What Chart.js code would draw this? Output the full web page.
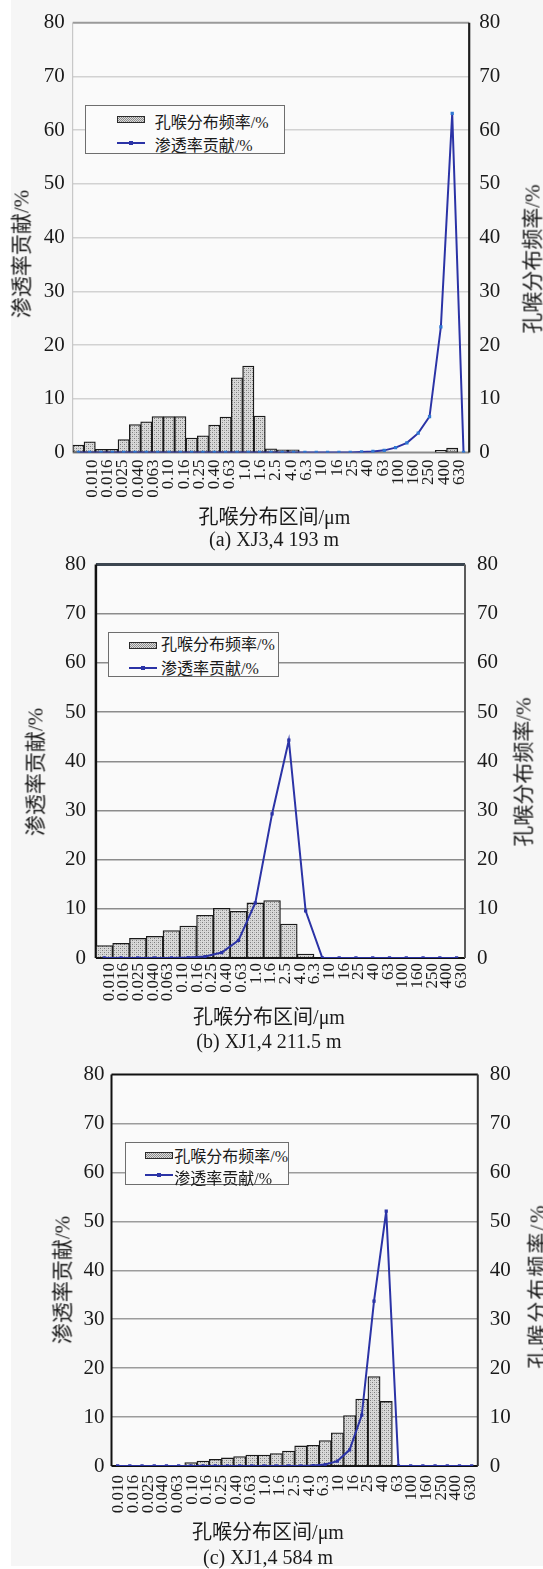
<!DOCTYPE html>
<html><head><meta charset="utf-8">
<script src="https://cdn.jsdelivr.net/npm/chart.js@4.4.1/dist/chart.umd.min.js"></script>
<style>
html,body{margin:0;padding:0;background:#fff;width:543px;height:1569px;overflow:hidden;position:relative}
#bg{position:absolute;left:11px;top:0;width:532px;height:1566px;background:#f6f6f6}
canvas{position:absolute;left:0}
.t{position:absolute;font-family:"Liberation Serif","Noto Sans CJK SC",serif;color:#1a1a1a;white-space:nowrap;line-height:1}
.c{transform:translate(-50%,-50%)}
.r{transform:translate(-50%,-50%) rotate(-90deg)}
.lg{position:absolute;border:1.5px solid #6e6e6e;background:#fbfbfb;box-sizing:border-box}
.sw{position:absolute;height:7px;border:1.5px solid #2a2a2a;box-sizing:border-box;background:repeating-conic-gradient(#8a8a8a 0 25%,#dcdcdc 0 50%) 0 0/2px 2px}
.ln{position:absolute;height:2px;background:#2b33a6}
.mk{position:absolute;width:4px;height:4px;background:#2b33a6}
.lt{position:absolute;font-family:"Liberation Serif","Noto Sans CJK SC",serif;font-size:16px;line-height:1;color:#1a1a1a;white-space:nowrap;transform:translateY(-50%)}
</style></head>
<body>
<div id="bg"></div>
<canvas id="ca" width="543" height="510" style="top:0px"></canvas>
<canvas id="cb" width="543" height="470" style="top:540px"></canvas>
<canvas id="cc" width="543" height="480" style="top:1050px"></canvas>
<div id="txt"></div>
<script>
// ---- tick labels of the pore-throat interval axis (µm) ----
const tickLabels = ['0.010','0.016','0.025','0.040','0.063','0.10','0.16','0.25','0.40','0.63','1.0','1.6','2.5','4.0','6.3','10','16','25','40','63','100','160','250','400','630'];

// ---- (a) XJ3, 4 193 m : 35 bins ----
const binsA = ['1','2','3','4','5','6','7','8','9','10','11','12','13','14','15','16','17','18','19','20','21','22','23','24','25','26','27','28','29','30','31','32','33','34','35'];
const poreA = [1.4,2.0,0.6,0.6,2.4,5.2,5.7,6.7,6.7,6.7,2.7,3.1,5.1,6.6,13.9,16.1,6.8,0.7,0.5,0.5,0,0,0,0,0,0,0,0,0,0,0,0,0.4,0.8,0];
const permA = [0,0,0,0,0,0,0,0,0,0,0,0,0,0,0,0,0,0,0,0,0,0,0,0,0,0.1,0.2,0.4,0.9,1.8,3.6,6.7,23.4,63.1,0];

// ---- (b) XJ1, 4 211.5 m : 22 bins ----
const binsB = ['1','2','3','4','5','6','7','8','9','10','11','12','13','14','15','16','17','18','19','20','21','22'];
const poreB = [2.55,3.0,4.0,4.4,5.6,6.5,8.7,10.1,9.5,11.2,11.7,6.9,0.8,0,0,0,0,0,0,0,0,0];
const permB = [0,0,0,0,0,0.1,0.3,1.1,3.6,11.2,29.3,44.3,9.6,0,0,0,0,0,0,0,0,0];

// ---- (c) XJ1, 4 584 m : 30 bins ----
const binsC = ['1','2','3','4','5','6','7','8','9','10','11','12','13','14','15','16','17','18','19','20','21','22','23','24','25','26','27','28','29','30'];
const poreC = [0,0,0,0,0,0,0.7,1.0,1.35,1.65,1.95,2.25,2.25,2.55,3.05,4.1,4.25,5.2,6.8,10.3,13.7,18.3,13.2,0,0,0,0,0,0,0];
const permC = [0,0,0,0,0,0,0,0,0,0,0,0,0,0,0,0,0.1,0.3,1.0,3.3,10.4,33.7,52.1,0,0,0,0,0,0,0];

const yTicks = [0,10,20,30,40,50,60,70,80];
const serieBar = '孔喉分布频率/%';
const serieLine = '渗透率贡献/%';
const xTitle = '孔喉分布区间/μm';

function makePattern(){
  const c=document.createElement('canvas'); c.width=4; c.height=4;
  const g=c.getContext('2d');
  g.fillStyle='#d9d9d9'; g.fillRect(0,0,4,4);
  g.fillStyle='#7c7c7c'; g.fillRect(0,0,1,1); g.fillRect(2,2,1,1);
  g.fillStyle='#b4b4b4'; g.fillRect(2,0,1,1); g.fillRect(0,2,1,1);
  return g.createPattern(c,'repeat');
}

const bgPlugin={id:'bgp',beforeDraw(ch){const a=ch.chartArea,g=ch.ctx;g.save();g.fillStyle='#fafafa';g.fillRect(a.left,a.top,a.right-a.left,a.bottom-a.top);g.restore();}};
const framePlugin={id:'frame',beforeDatasetsDraw(ch,args,o){const a=ch.chartArea,g=ch.ctx;g.save();
  const side=(x1,y1,x2,y2,s)=>{g.strokeStyle=s[0];g.lineWidth=s[1];g.beginPath();g.moveTo(x1,y1);g.lineTo(x2,y2);g.stroke();};
  side(a.left,a.top,a.right,a.top,o.top);
  side(a.left,a.bottom,a.right,a.bottom,o.bottom);
  side(a.left,a.top,a.left,a.bottom,o.left);
  side(a.right,a.top,a.right,a.bottom,o.right);
  g.restore();}};

function build(p){
  const ctx=document.getElementById(p.id).getContext('2d');
  const W=543;
  const pw=p.plotR-p.plotL;
  // linear label axis so that label 0 and label 24 fall where they are in the figure
  const span=(tickLabels.length-1)*pw/(p.lab1-p.lab0);
  const xmin=-(p.lab0-p.plotL)/pw*span;
  const xmax=xmin+span;
  const font={family:'"Liberation Serif", serif',size:21};
  new Chart(ctx,{
    type:'bar',
    data:{labels:p.cats,datasets:[
      {type:'line',label:serieLine,data:p.perm,xAxisID:'x',yAxisID:'yL',borderColor:'#2b33a6',borderWidth:2,
       pointRadius:2.3,pointStyle:'rect',pointBackgroundColor:p.ptColor,pointBorderWidth:0,tension:0,order:0},
      {type:'bar',label:serieBar,data:p.pore,xAxisID:'x',yAxisID:'yR',backgroundColor:makePattern(),
       borderColor:'#1a1a1a',borderWidth:1.3,borderSkipped:false,categoryPercentage:1,barPercentage:1,order:1}
    ]},
    options:{
      responsive:false,animation:false,devicePixelRatio:1,
      layout:{padding:{top:p.plotT-p.top,left:0,right:0,bottom:0}},
      plugins:{legend:{display:false},tooltip:{enabled:false},frame:p.frame},
      scales:{
        x:{type:'category',display:false,offset:true},
        xl:{type:'linear',position:'bottom',min:xmin,max:xmax,
          afterBuildTicks:s=>{s.ticks=tickLabels.map((_,i)=>({value:i}));},
          afterFit:s=>{s.height=p.h-(p.plotB-p.top);},
          ticks:{autoSkip:false,minRotation:90,maxRotation:90,padding:p.xpad,color:'#1a1a1a',
            font:{family:'"Liberation Serif", serif',size:17},callback:v=>tickLabels[v]},
          grid:{display:false,drawTicks:false},border:{display:false}},
        yL:{type:'linear',position:'left',min:0,max:80,
          afterBuildTicks:s=>{s.ticks=yTicks.map(v=>({value:v}));},
          afterFit:s=>{s.width=p.plotL;},
          ticks:{padding:p.lpad,color:'#1a1a1a',font},
          grid:{drawTicks:false,color:c=>(c.tick&&(c.tick.value===0||c.tick.value===80))?'rgba(0,0,0,0)':p.gridColor,lineWidth:p.gridW},
          border:{display:false}},
        yR:{type:'linear',position:'right',min:0,max:80,
          afterBuildTicks:s=>{s.ticks=yTicks.map(v=>({value:v}));},
          afterFit:s=>{s.width=W-p.plotR;},
          ticks:{padding:p.rpad,color:'#1a1a1a',font},
          grid:{display:false,drawTicks:false},border:{display:false}}
      }
    },
    plugins:[bgPlugin,framePlugin]
  });
}

build({id:'ca',top:0,h:510,plotL:72.7,plotR:469.2,plotT:22.7,plotB:452.5,lab0:84.8,lab1:467.5,
  cats:binsA,pore:poreA,perm:permA,ptColor:'#2f78d2',xpad:7,lpad:8,rpad:10,gridColor:'#d2d2d2',gridW:1.5,
  frame:{top:['#9a9a9a',2],bottom:['#8a8a8a',2],left:['#bdbdbd',1],right:['#1e1e1e',2.2]}});
build({id:'cb',top:540,h:470,plotL:95.9,plotR:465,plotT:558.3,plotB:958,lab0:102.1,lab1:469.2,
  cats:binsB,pore:poreB,perm:permB,ptColor:'#2b33a6',xpad:5,lpad:10,rpad:12,gridColor:'#8c8c8c',gridW:1.5,
  frame:{top:['#3c4650',3],bottom:['#111',2],left:['#111',2.5],right:['#5c5c5c',2]}});
build({id:'cc',top:1050,h:480,plotL:111.5,plotR:477.8,plotT:1064,plotB:1466,lab0:111.5,lab1:477.8,
  cats:binsC,pore:poreC,perm:permC,ptColor:'#2b33a6',xpad:9,lpad:7,rpad:12,gridColor:'#9c9c9c',gridW:1.5,
  frame:{top:['#111',2],bottom:['#111',2],left:['#111',2],right:['#333',2]}});

// ---- texts ----
const T=document.getElementById('txt');
function txt(s,x,y,size,cls,extra){const d=document.createElement('div');d.className='t '+cls;d.textContent=s;
  d.style.left=x+'px';d.style.top=y+'px';d.style.fontSize=size+'px';if(extra)Object.assign(d.style,extra);T.appendChild(d);}
function legend(L){
  const b=document.createElement('div');b.className='lg';
  Object.assign(b.style,{left:L.x+'px',top:L.y+'px',width:L.w+'px',height:L.h+'px'});
  const sw=document.createElement('div');sw.className='sw';
  Object.assign(sw.style,{left:L.sx+'px',top:(L.s1-3.5)+'px',width:L.sw+'px'});b.appendChild(sw);
  const ln=document.createElement('div');ln.className='ln';
  Object.assign(ln.style,{left:L.sx+'px',top:(L.s2-1)+'px',width:L.sw+'px'});b.appendChild(ln);
  const mk=document.createElement('div');mk.className='mk';
  Object.assign(mk.style,{left:(L.sx+L.sw/2-2)+'px',top:(L.s2-2)+'px'});b.appendChild(mk);
  const t1=document.createElement('div');t1.className='lt';t1.textContent=serieBar;
  Object.assign(t1.style,{left:L.tx+'px',top:L.t1+'px'});b.appendChild(t1);
  const t2=document.createElement('div');t2.className='lt';t2.textContent=serieLine;
  Object.assign(t2.style,{left:L.tx+'px',top:L.t2+'px'});b.appendChild(t2);
  T.appendChild(b);
}
// (a)
txt(xTitle,274.4,517,20,'c');
txt('(a) XJ3,4 193 m',274,539,20,'c');
txt(serieLine,22,254,21,'r');
txt(serieBar,533,259,21,'r');
legend({x:84.8,y:105,w:199.8,h:49.3,sx:31,sw:28,s1:13.3,s2:36.7,tx:69,t1:16.5,t2:39.5});
// (b)
txt(xTitle,269,1016.7,20,'c');
txt('(b) XJ1,4 211.5 m',269,1041,20,'c');
txt(serieLine,35.5,772,21,'r');
txt(serieBar,523.5,772,21,'r');
legend({x:108,y:632.3,w:170.7,h:44.4,sx:19.5,sw:28,s1:12.4,s2:34.4,tx:52,t1:12,t2:35.5});
// (c)
txt(xTitle,268,1531.7,20,'c');
txt('(c) XJ1,4 584 m',268,1556.7,20,'c');
txt(serieLine,63,1280,21,'r');
txt(serieBar,538,1286,21,'r',{letterSpacing:'2px'});
legend({x:125.3,y:1141.7,w:163.8,h:43.3,sx:18.4,sw:28,s1:12.6,s2:32.3,tx:48,t1:14,t2:36});
</script>
</body></html>
